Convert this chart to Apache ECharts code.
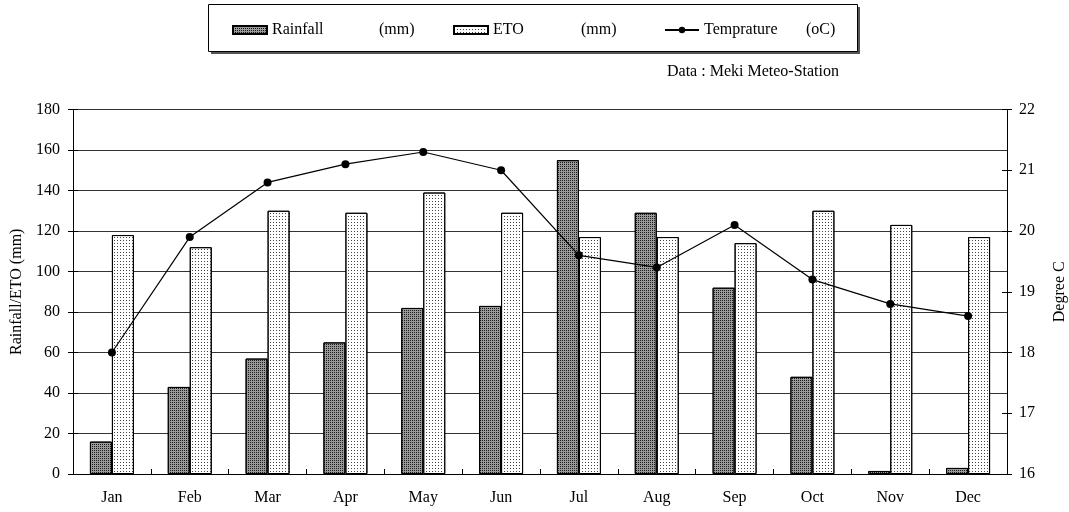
<!DOCTYPE html>
<html>
<head>
<meta charset="utf-8">
<script src="https://cdn.jsdelivr.net/npm/echarts@6/dist/echarts.min.js"></script>
<style>
  html, body { margin: 0; padding: 0; background: #fff; }
  #main { width: 1069px; height: 512px; }
</style>
</head>
<body>
<div id="main"></div>
<script>
var months = ['Jan', 'Feb', 'Mar', 'Apr', 'May', 'Jun', 'Jul', 'Aug', 'Sep', 'Oct', 'Nov', 'Dec'];
var rainfall = [16, 43, 57, 65, 82, 83, 155, 129, 92, 48, 1.5, 3];
var eto = [118, 112, 130, 129, 139, 129, 117, 117, 114, 130, 123, 117];
var temprature = [18.0, 19.9, 20.8, 21.1, 21.3, 21.0, 19.6, 19.4, 20.1, 19.2, 18.8, 18.6];

var serif = '"Liberation Serif", "Times New Roman", serif';
var fs = 16;

var chart = echarts.init(document.getElementById('main'));

// one legend per item so the odd spacing of the original can be kept
function legendItem(name, left, label, unit, labelWidth) {
  return {
    left: left,
    top: 17,
    itemWidth: 34,
    itemHeight: 8,
    icon: name === 'Temprature' ? undefined : 'rect',
    z: 10,
    data: [name],
    formatter: function () { return '{a|' + label + '}{b|' + unit + '}'; },
    textStyle: {
      fontFamily: serif,
      fontSize: fs,
      color: '#000',
      rich: {
        a: { width: labelWidth, fontFamily: serif, fontSize: fs, color: '#000' },
        b: { fontFamily: serif, fontSize: fs, color: '#000' }
      }
    }
  };
}

// extra axes only draw the tick half inside the plot (ticks cross the axis lines)
function innerTicks(axis) {
  return Object.assign({
    axisLine: { show: false },
    axisLabel: { show: false },
    splitLine: { show: false },
    axisTick: { show: true, inside: true, length: 5, lineStyle: { color: '#000' } }
  }, axis);
}

var option = {
  animation: false,
  textStyle: { fontFamily: serif, color: '#000' },
  graphic: [
    // legend box with its shadow
    { type: 'rect', shape: { x: 211, y: 7, width: 649, height: 47 }, style: { fill: '#555' }, z: 0 },
    { type: 'rect', shape: { x: 208.5, y: 4.5, width: 649, height: 47 }, style: { fill: '#fff', stroke: '#000', lineWidth: 1 }, z: 1 },
    { type: 'text', left: 667, top: 64, style: { text: 'Data : Meki Meteo-Station', font: fs + 'px ' + serif, fill: '#000' }, z: 5 }
  ],
  legend: [
    legendItem('Rainfall', 227, 'Rainfall', '(mm)', 107),
    legendItem('ETO', 448, 'ETO', '(mm)', 88),
    legendItem('Temprature', 659, 'Temprature', '(oC)', 102)
  ],
  grid: { left: 73, right: 62, top: 109.5, bottom: 38, outerBoundsMode: 'none', containLabel: false },
  xAxis: [
    {
      type: 'category',
      data: months,
      axisLine: { lineStyle: { color: '#000', width: 1 } },
      axisTick: { length: 5, lineStyle: { color: '#000' } },
      axisLabel: { color: '#000', fontFamily: serif, fontSize: fs, margin: 16 }
    },
    innerTicks({ type: 'category', data: months, position: 'bottom' })
  ],
  yAxis: [
    {
      type: 'value',
      min: 0,
      max: 180,
      interval: 20,
      name: 'Rainfall/ETO (mm)',
      nameLocation: 'middle',
      nameGap: 46,
      nameTextStyle: { fontFamily: serif, fontSize: fs, color: '#000' },
      axisLine: { show: true, lineStyle: { color: '#000' } },
      axisTick: { show: true, length: 5, lineStyle: { color: '#000' } },
      axisLabel: { color: '#000', fontFamily: serif, fontSize: fs, margin: 13 },
      splitLine: { lineStyle: { color: '#333', width: 1 } }
    },
    {
      type: 'value',
      min: 16,
      max: 22,
      interval: 1,
      name: 'Degree C',
      nameLocation: 'middle',
      nameGap: 45,
      nameTextStyle: { fontFamily: serif, fontSize: fs, color: '#000' },
      axisLine: { show: true, lineStyle: { color: '#000' } },
      axisTick: { show: true, length: 5, lineStyle: { color: '#000' } },
      axisLabel: { color: '#000', fontFamily: serif, fontSize: fs, margin: 12 },
      splitLine: { show: false }
    },
    innerTicks({ type: 'value', min: 0, max: 180, interval: 20, position: 'left' }),
    innerTicks({ type: 'value', min: 16, max: 22, interval: 1, position: 'right' })
  ],
  series: [
    {
      name: 'Rainfall',
      type: 'bar',
      data: rainfall,
      barWidth: 22,
      barGap: '0%',
      itemStyle: {
        color: '#9a9a9a',
        borderColor: '#000',
        borderWidth: 1,
        decal: { symbol: 'rect', symbolSize: 1, dashArrayX: [1, 1], dashArrayY: [1, 1], color: '#1a1a1a' }
      }
    },
    {
      name: 'ETO',
      type: 'bar',
      data: eto,
      barWidth: 22,
      itemStyle: {
        color: '#ffffff',
        borderColor: '#000',
        borderWidth: 1,
        decal: { symbol: 'rect', symbolSize: 1, dashArrayX: [1, 2], dashArrayY: [1, 2], color: '#444' }
      }
    },
    {
      name: 'Temprature',
      type: 'line',
      yAxisIndex: 1,
      data: temprature,
      symbol: 'circle',
      symbolSize: 8,
      z: 5,
      lineStyle: { color: '#000', width: 1.2 },
      itemStyle: { color: '#000' }
    }
  ]
};

chart.setOption(option);
</script>
</body>
</html>
